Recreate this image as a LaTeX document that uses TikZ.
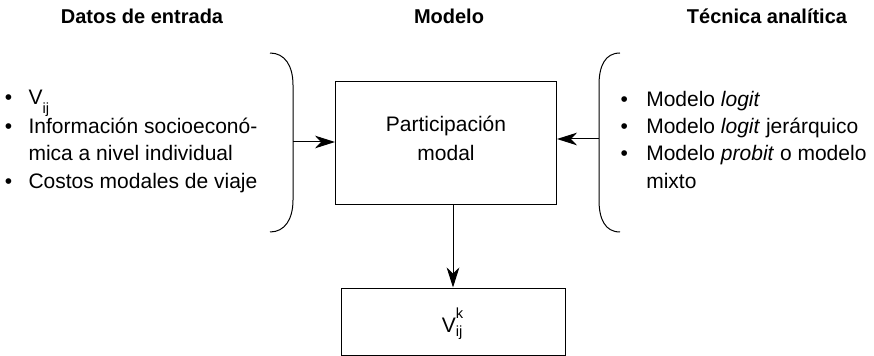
\documentclass[tikz,border=0pt]{standalone}
\usepackage{fontspec}
\setmainfont{Liberation Sans}
\usetikzlibrary{arrows.meta}
\newcommand{\subij}{\raisebox{-6.4pt}{\fontsize{11}{11}\selectfont ij}}
\tikzset{
  txt/.style={font=\fontsize{15.75}{20}\selectfont, inner sep=0pt, anchor=base west},
  head/.style={font=\fontsize{15}{18}\selectfont\bfseries, inner sep=0pt, anchor=base},
  boxst/.style={draw, line width=0.75pt, inner sep=0pt},
  arr/.style={-{Stealth[length=15pt,width=9.5pt,inset=4.5pt]}, line width=0.75pt},
  bracest/.style={line width=0.75pt},
}
\begin{document}
\begin{tikzpicture}[x=0.75pt,y=-0.75pt]
\useasboundingbox (0,0) rectangle (874,356);
% headings
\node[head] (h1) at (142,24) {Datos de entrada};
\node[head] (h2) at (449,24) {Modelo};
\node[head] (h3) at (767,24) {Técnica analítica};
% main box
\node[boxst, minimum width=165.75pt, minimum height=91.7pt] (box) at (446,143) {};
\node[font=\fontsize{15.75}{21.75}\selectfont, inner sep=0pt, align=center] (boxtext) at (446,138.75) {Participación\\modal};
% bottom box
\node[boxst, minimum width=168pt, minimum height=50.25pt] (out) at (453,321.5) {};
\node[txt] (outtext) at (441.7,332.3) {V\rlap{\raisebox{10.5pt}{\fontsize{11}{11}\selectfont k}}\raisebox{-2.8pt}{\fontsize{11}{11}\selectfont ij}};
% left list
\node[txt] (lb1) at (4.6,104.5) {•};
\node[txt] (l1) at (28.3,104.5) {V\subij};
\node[txt] (lb2) at (4.6,134) {•};
\node[txt] (l2) at (28.3,134) {Información socioeconó-};
\node[txt] (l3) at (28.3,161) {mica a nivel individual};
\node[txt] (lb4) at (4.6,188) {•};
\node[txt] (l4) at (28.3,188) {Costos modales de viaje};
% right list
\node[txt] (rb1) at (620.3,106.5) {•};
\node[txt] (r1) at (646,106.5) {Modelo \textit{logit}};
\node[txt] (rb2) at (620.3,134) {•};
\node[txt] (r2) at (646,134) {Modelo \textit{logit} jerárquico};
\node[txt] (rb3) at (620.3,161) {•};
\node[txt] (r3) at (646,161) {Modelo \textit{probit} o modelo};
\node[txt] (r4) at (646,188) {mixto};
% brackets
\draw[bracest] (270,53) .. controls (285,53) and (293,66) .. (293,85) -- (293,200) .. controls (293,219) and (285,232) .. (270,232);
\draw[bracest] (620,53) .. controls (605,53) and (599,66) .. (599,85) -- (599,200) .. controls (599,219) and (605,232) .. (620,232);
\coordinate (lbr) at (293,142);
\coordinate (rbr) at (599,139);
% connectors
\draw[arr] (lbr) -- (box.west |- lbr);
\draw[arr] (rbr) -- (box.east |- rbr);
\draw[arr] (box.south -| out.north) -- (out.north);
\end{tikzpicture}
\end{document}
